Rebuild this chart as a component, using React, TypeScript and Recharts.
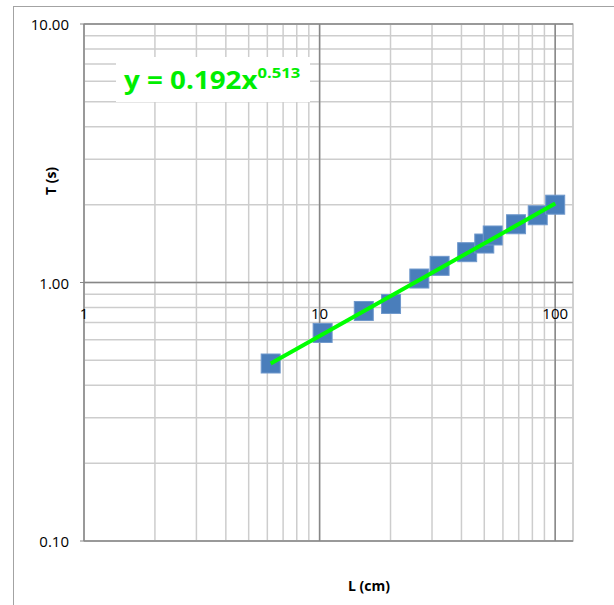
import { ScatterChart, Scatter, XAxis, YAxis, CartesianGrid, ReferenceLine, ReferenceArea } from 'recharts'

// measured pendulum: length (cm) vs period (s)
const L_CM = [6.2, 10.3, 15.4, 20.1, 26.5, 32.3, 42.3, 50, 54.3, 68.2, 84.3, 100]
const T_S = [0.486, 0.638, 0.776, 0.826, 1.036, 1.16, 1.31, 1.415, 1.52, 1.68, 1.82, 2.0]

// power-law trendline endpoints as drawn
const FIT_L = [6.2, 100]
const FIT_T = [0.486, 2.02]

const X_GRID = [1, 2, 3, 4, 5, 6, 7, 8, 9, 10, 20, 30, 40, 50, 60, 70, 80, 90, 100]
const Y_GRID = [0.1, 0.2, 0.3, 0.4, 0.5, 0.6, 0.7, 0.8, 0.9, 1, 2, 3, 4, 5, 6, 7, 8, 9, 10]
const X_LABELS = [1, 10, 100]
const Y_LABELS = [0.1, 1, 10]
const X_MAJOR = [10, 100]
const Y_MAJOR = [0.1, 1, 10]

const W = 614
const H = 605
const MARGIN = { top: 24, right: 41, bottom: 34, left: 24 }
const X_AXIS_H = 30
const PLOT_H = H - MARGIN.top - MARGIN.bottom - X_AXIS_H

const FONT = '"Open Sans", sans-serif'
const MINOR = '#cdcdcd'
const MAJOR = '#878787'
const MARKER = '#4a7ebb'
const FIT = '#00ff00'

const points = L_CM.map((x, i) => ({ x, y: T_S[i] }))
const fit = FIT_L.map((x, i) => ({ x, y: FIT_T[i] }))

const Square = (p: any) => (
  <rect x={p.cx - 9.5} y={p.cy - 9.5} width={19} height={19} fill={MARKER} stroke="#6f98cc" strokeWidth={1} />
)

const XTick = (p: any) => {
  if (!X_LABELS.includes(p.payload.value)) return <g />
  // labels hang just under the T = 1 line, like the source sheet
  return (
    <text x={p.x} y={MARGIN.top + PLOT_H / 2 + 36} textAnchor="middle" fontSize={15} fontFamily={FONT} fill="#000">
      {p.payload.value}
    </text>
  )
}

const YTick = (p: any) => {
  if (!Y_LABELS.includes(p.payload.value)) return <g />
  return (
    <g>
      <line x1={p.x} x2={p.x + 4} y1={p.y} y2={p.y} stroke={MAJOR} />
      <text x={p.x - 11} y={p.y + 1} dy="0.35em" textAnchor="end" fontSize={15} fontFamily={FONT} fill="#000">
        {p.payload.value.toFixed(2)}
      </text>
    </g>
  )
}

export default function App() {
  return (
    <div style={{ position: 'absolute', left: 0, top: 0, width: W, height: H, overflow: 'hidden', background: '#fff' }}>
      <div style={{ position: 'absolute', left: 13, top: 6, width: 800, height: 800, border: '1px solid #a3a3a3' }} />
      <div style={{ position: 'absolute', left: 0, top: 0 }}>
        <ScatterChart width={W} height={H} margin={MARGIN}>
          <CartesianGrid stroke={MINOR} strokeWidth={1.5} />
          <ReferenceArea x1={1} x2={119} y1={0.1} y2={10} fill="none" stroke={MINOR} strokeWidth={1.5} />
          {X_MAJOR.map((v) => (
            <ReferenceLine key={'x' + v} x={v} stroke={MAJOR} strokeWidth={1.5} />
          ))}
          {Y_MAJOR.map((v) => (
            <ReferenceLine key={'y' + v} y={v} stroke={MAJOR} strokeWidth={1.5} />
          ))}
          <XAxis
            type="number"
            dataKey="x"
            scale="log"
            domain={[1, 119]}
            ticks={X_GRID}
            interval={0}
            allowDataOverflow
            axisLine={false}
            tickLine={false}
            height={X_AXIS_H}
            tick={(p: any) => <XTick {...p} />}
            label={{
              content: () => (
                <text x={369} y={591} textAnchor="middle" fontSize={14} fontWeight={700} fontFamily={FONT} fill="#000">
                  L (cm)
                </text>
              ),
            }}
          />
          <YAxis
            type="number"
            dataKey="y"
            scale="log"
            domain={[0.1, 10]}
            ticks={Y_GRID}
            interval={0}
            allowDataOverflow
            width={60}
            axisLine={{ stroke: MAJOR, strokeWidth: 1.5 }}
            tickLine={false}
            tickSize={4}
            tickMargin={0}
            tick={(p: any) => <YTick {...p} />}
            label={{
              content: () => (
                <text transform="translate(56,181) rotate(-90)" textAnchor="middle" fontSize={14} fontWeight={700} fontFamily={FONT} fill="#000">
                  T (s)
                </text>
              ),
            }}
          />
          <Scatter data={points} shape={Square} isAnimationActive={false} />
          <Scatter data={fit} line={{ stroke: FIT, strokeWidth: 4 }} lineType="joint" shape={() => <g />} isAnimationActive={false} />
        </ScatterChart>
      </div>
      <svg style={{ position: 'absolute', left: 116, top: 57 }} width={194} height={45}>
        <rect width={194} height={45} fill="#fff" />
        <text transform="translate(8,32) scale(1.11,1)" fill="#00ee00" fontWeight={700} fontSize={25} fontFamily={FONT}>
          y = 0.192x<tspan dy={-11} fontSize={15}>0.513</tspan>
        </text>
      </svg>
    </div>
  )
}
